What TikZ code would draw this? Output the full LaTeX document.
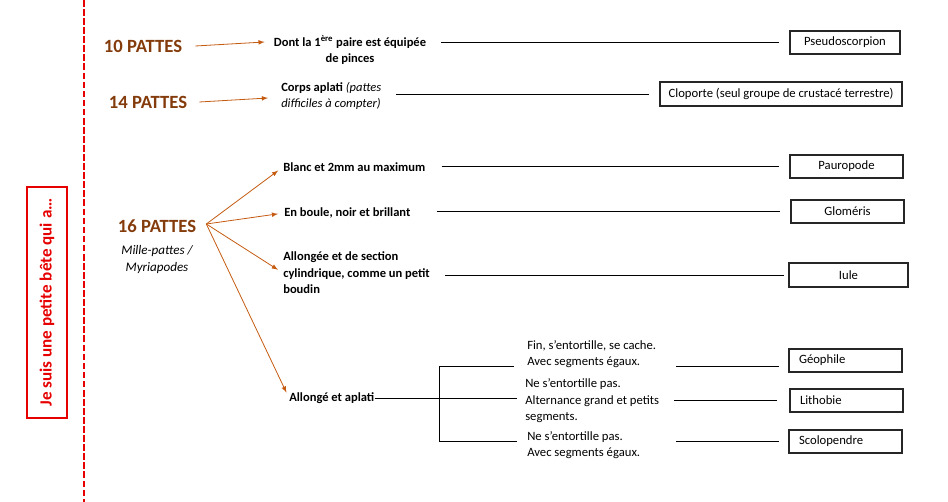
\documentclass[tikz,border=0pt]{standalone}
\usepackage{fontspec}
\setmainfont{Carlito}
\usepackage{tikz}
\definecolor{brun}{RGB}{132,60,12}
\definecolor{orangefonce}{RGB}{197,90,17}
\definecolor{rouge}{RGB}{230,0,0}

\begin{document}
\begin{tikzpicture}[x=0.75pt, y=-0.75pt,
        pattes/.style={font=\fontsize{14}{17}\selectfont\bfseries, text=brun, inner sep=0},
        critere/.style={font=\fontsize{9.4}{12.4}\selectfont\bfseries, align=left, anchor=west, inner sep=0},
        detail/.style={font=\fontsize{9.5}{12.4}\selectfont, align=left, anchor=west, inner sep=0},
        bete/.style={draw=black!85, line width=0.8pt, font=\fontsize{9.5}{12}\selectfont, minimum height=17.25pt, minimum width=84.75pt, inner sep=0},
        betegauche/.style={bete, text width=69.75pt, align=left, inner xsep=7.5pt},
        fleche/.style={->, >=latex, orangefonce, line width=0.6pt},
        trait/.style={line width=0.6pt}]
        \useasboundingbox (0,0) rectangle (948,502);

        \draw[rouge, line width=0.8pt, dash pattern=on 5pt off 1.8pt] (84,0) -- (84,502);
        \node[draw=rouge, line width=0.8pt, rotate=90, minimum width=173.25pt, minimum height=30pt, inner sep=0,
            text=rouge, font=\fontsize{12.8}{15}\selectfont\bfseries] (titre) at (47,302.5) {Je suis une petite bête qui a…};

        \node[pattes] (p10) at (143,46) {10 PATTES};
        \node[critere, anchor=center, align=center] (d10) at (350,50) {Dont la 1\textsuperscript{ère} paire est équipée\\de pinces};
        \node[bete, minimum width=82.5pt] (pseudo) at (845,42.5) {Pseudoscorpion};
        \draw[fleche] ([xshift=9.75pt]p10.east) -- ([xshift=-6.75pt, yshift=6pt]d10.west);
        \draw[trait] ([xshift=11pt]d10.east |- pseudo.west) -- ([xshift=-7.5pt]pseudo.west);

        \node[pattes] (p14) at (148,102) {14 PATTES};
        \node[critere] (c14) at (281,96) {Corps aplati {\mdseries\itshape (pattes}\\{\mdseries\itshape difficiles à compter)}};
        \node[bete, minimum width=181.5pt, minimum height=18pt] (clop) at (781,94) {Cloporte (seul groupe de crustacé terrestre)};
        \draw[fleche] ([xshift=9pt]p14.east) -- ([xshift=-9.75pt, yshift=-1.5pt]c14.west);
        \draw[trait] ([xshift=11.25pt]c14.east |- clop.west) -- ([xshift=-7.5pt]clop.west);

        \node[pattes] (p16) at (157,226) {16 PATTES};
        \node[detail, anchor=center, align=center, font=\fontsize{9.8}{12.4}\selectfont\itshape] (myr) at (157,259.5) {Mille-pattes /\\Myriapodes};
        \coordinate (o16) at ([xshift=7.5pt, yshift=1.5pt]p16.east);

        \node[critere] (blanc) at (283,167) {Blanc et 2mm au maximum};
        \node[critere] (boule) at (284,213) {En boule, noir et brillant};
        \node[critere] (cyl) at (283,273) {Allongée et de section\\cylindrique, comme un petit\\boudin};
        \node[critere] (aplati) at (289,398) {Allongé et aplati};

        \foreach \c in {blanc,boule,cyl,aplati}
            \draw[fleche, shorten >=4.5pt] (o16) -- (\c.west);

        \node[bete] (pauro) at (846.5,166.5) {Pauropode};
        \node[bete] (glom) at (847.5,211.5) {Gloméris};
        \node[bete, minimum width=89.25pt, minimum height=18pt] (iule) at (848.5,275) {Iule};
        \draw[trait] ([xshift=12pt]blanc.east |- pauro.west) -- ([xshift=-7.5pt]pauro.west);
        \draw[trait] ([xshift=19.5pt]boule.east |- glom.west) -- ([xshift=-7.5pt]glom.west);
        \draw[trait] ([xshift=11.25pt]cyl.east |- iule.west) -- ([xshift=-3pt]iule.west);

        \node[detail] (geo) at (527,354) {Fin, s’entortille, se cache.\\Avec segments égaux.};
        \node[detail] (litho) at (525,401) {Ne s’entortille pas.\\Alternance grand et petits\\segments.};
        \node[detail] (scolo) at (527,445) {Ne s’entortille pas.\\Avec segments égaux.};

        \node[betegauche] (geob) at (845.5,360.5) {Géophile};
        \node[betegauche] (lithob) at (846.5,400.5) {Lithobie};
        \node[betegauche] (scolob) at (845.5,441.5) {Scolopendre};

        \coordinate (haut) at (439,366);
        \coordinate (bas) at (439,441);
        \draw[trait] (aplati.east) -- (aplati.east -| haut);
        \draw[trait] (haut) -- (bas);
        \draw[trait] (haut) -- ([xshift=-9.75pt]geo.west |- haut);
        \draw[trait] (aplati.east -| haut) -- ([xshift=-6pt]litho.west |- aplati.east);
        \draw[trait] (bas) -- ([xshift=-7.5pt]scolo.west |- bas);

        \draw[trait] ([xshift=15pt]geo.east |- haut) -- ([xshift=-6.75pt]geob.west |- haut);
        \draw[trait] ([xshift=11.25pt]litho.east |- lithob.west) -- ([xshift=-9pt]lithob.west);
        \draw[trait] ([xshift=27pt]scolo.east |- bas) -- ([xshift=-6.75pt]scolob.west |- bas);
    \end{tikzpicture}
\end{document}
